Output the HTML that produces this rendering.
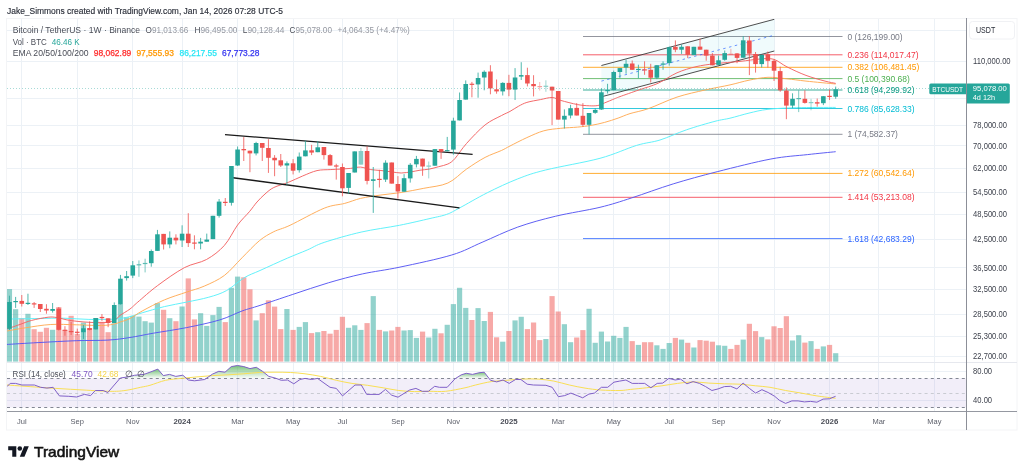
<!DOCTYPE html><html><head><meta charset="utf-8"><style>html,body{margin:0;padding:0;background:#fff;width:1024px;height:473px;overflow:hidden}svg{display:block;will-change:transform}text{font-family:"Liberation Sans",sans-serif}</style></head><body>
<svg width="1024" height="473" viewBox="0 0 1024 473">
<rect width="1024" height="473" fill="#fff"/>
<rect x="6.5" y="18.5" width="1010.5" height="411.5" fill="none" stroke="#f3f4f6" stroke-width="1"/>
<defs><clipPath id="cm"><rect x="7" y="19" width="959" height="343"/></clipPath><clipPath id="cr"><rect x="7" y="362" width="959" height="49"/></clipPath><linearGradient id="gg" x1="0" y1="0" x2="0" y2="1"><stop offset="0" stop-color="#4caf50" stop-opacity="0.75"/><stop offset="1" stop-color="#4caf50" stop-opacity="0.02"/></linearGradient></defs>
<line x1="21.5" y1="19" x2="21.5" y2="411" stroke="#ecf1f6" stroke-width="1"/>
<line x1="77.5" y1="19" x2="77.5" y2="411" stroke="#ecf1f6" stroke-width="1"/>
<line x1="132.5" y1="19" x2="132.5" y2="411" stroke="#ecf1f6" stroke-width="1"/>
<line x1="182.5" y1="19" x2="182.5" y2="411" stroke="#ecf1f6" stroke-width="1"/>
<line x1="237.5" y1="19" x2="237.5" y2="411" stroke="#ecf1f6" stroke-width="1"/>
<line x1="293.5" y1="19" x2="293.5" y2="411" stroke="#ecf1f6" stroke-width="1"/>
<line x1="342.5" y1="19" x2="342.5" y2="411" stroke="#ecf1f6" stroke-width="1"/>
<line x1="397.5" y1="19" x2="397.5" y2="411" stroke="#ecf1f6" stroke-width="1"/>
<line x1="453.5" y1="19" x2="453.5" y2="411" stroke="#ecf1f6" stroke-width="1"/>
<line x1="508.5" y1="19" x2="508.5" y2="411" stroke="#ecf1f6" stroke-width="1"/>
<line x1="558.5" y1="19" x2="558.5" y2="411" stroke="#ecf1f6" stroke-width="1"/>
<line x1="613.5" y1="19" x2="613.5" y2="411" stroke="#ecf1f6" stroke-width="1"/>
<line x1="669.5" y1="19" x2="669.5" y2="411" stroke="#ecf1f6" stroke-width="1"/>
<line x1="718.5" y1="19" x2="718.5" y2="411" stroke="#ecf1f6" stroke-width="1"/>
<line x1="774.5" y1="19" x2="774.5" y2="411" stroke="#ecf1f6" stroke-width="1"/>
<line x1="829.5" y1="19" x2="829.5" y2="411" stroke="#ecf1f6" stroke-width="1"/>
<line x1="878.5" y1="19" x2="878.5" y2="411" stroke="#ecf1f6" stroke-width="1"/>
<line x1="934.5" y1="19" x2="934.5" y2="411" stroke="#ecf1f6" stroke-width="1"/>
<line x1="7" y1="30.5" x2="966" y2="30.5" stroke="#ecf1f6" stroke-width="1"/>
<line x1="7" y1="61.5" x2="966" y2="61.5" stroke="#ecf1f6" stroke-width="1"/>
<line x1="7" y1="98.5" x2="966" y2="98.5" stroke="#ecf1f6" stroke-width="1"/>
<line x1="7" y1="125.5" x2="966" y2="125.5" stroke="#ecf1f6" stroke-width="1"/>
<line x1="7" y1="145.5" x2="966" y2="145.5" stroke="#ecf1f6" stroke-width="1"/>
<line x1="7" y1="168.5" x2="966" y2="168.5" stroke="#ecf1f6" stroke-width="1"/>
<line x1="7" y1="192.5" x2="966" y2="192.5" stroke="#ecf1f6" stroke-width="1"/>
<line x1="7" y1="214.5" x2="966" y2="214.5" stroke="#ecf1f6" stroke-width="1"/>
<line x1="7" y1="239.5" x2="966" y2="239.5" stroke="#ecf1f6" stroke-width="1"/>
<line x1="7" y1="267.5" x2="966" y2="267.5" stroke="#ecf1f6" stroke-width="1"/>
<line x1="7" y1="289.5" x2="966" y2="289.5" stroke="#ecf1f6" stroke-width="1"/>
<line x1="7" y1="314.5" x2="966" y2="314.5" stroke="#ecf1f6" stroke-width="1"/>
<line x1="7" y1="336.5" x2="966" y2="336.5" stroke="#ecf1f6" stroke-width="1"/>
<line x1="7" y1="356.5" x2="966" y2="356.5" stroke="#ecf1f6" stroke-width="1"/>
<line x1="7" y1="371.5" x2="966" y2="371.5" stroke="#ecf1f6" stroke-width="1"/>
<line x1="7" y1="400.5" x2="966" y2="400.5" stroke="#ecf1f6" stroke-width="1"/>
<g clip-path="url(#cm)">
<rect x="6.85" y="289.1" width="5.2" height="72.5" fill="rgba(38,166,154,0.5)"/>
<rect x="13.02" y="309.2" width="5.2" height="52.4" fill="rgba(38,166,154,0.5)"/>
<rect x="19.18" y="318.2" width="5.2" height="43.4" fill="rgba(239,83,80,0.5)"/>
<rect x="25.35" y="313.8" width="5.2" height="47.8" fill="rgba(38,166,154,0.5)"/>
<rect x="31.52" y="329.2" width="5.2" height="32.4" fill="rgba(239,83,80,0.5)"/>
<rect x="37.68" y="331.8" width="5.2" height="29.8" fill="rgba(239,83,80,0.5)"/>
<rect x="43.85" y="327.8" width="5.2" height="33.8" fill="rgba(239,83,80,0.5)"/>
<rect x="50.01" y="329.8" width="5.2" height="31.8" fill="rgba(38,166,154,0.5)"/>
<rect x="56.18" y="307.1" width="5.2" height="54.5" fill="rgba(239,83,80,0.5)"/>
<rect x="62.35" y="330" width="5.2" height="31.6" fill="rgba(239,83,80,0.5)"/>
<rect x="68.51" y="315.8" width="5.2" height="45.8" fill="rgba(239,83,80,0.5)"/>
<rect x="74.68" y="333.9" width="5.2" height="27.7" fill="rgba(239,83,80,0.5)"/>
<rect x="80.84" y="322.6" width="5.2" height="39" fill="rgba(38,166,154,0.5)"/>
<rect x="87.01" y="328.2" width="5.2" height="33.4" fill="rgba(239,83,80,0.5)"/>
<rect x="93.18" y="318" width="5.2" height="43.6" fill="rgba(38,166,154,0.5)"/>
<rect x="99.34" y="321.8" width="5.2" height="39.8" fill="rgba(239,83,80,0.5)"/>
<rect x="105.51" y="332.2" width="5.2" height="29.4" fill="rgba(239,83,80,0.5)"/>
<rect x="111.67" y="323.2" width="5.2" height="38.4" fill="rgba(38,166,154,0.5)"/>
<rect x="117.84" y="304.5" width="5.2" height="57.1" fill="rgba(38,166,154,0.5)"/>
<rect x="124.01" y="317.2" width="5.2" height="44.4" fill="rgba(38,166,154,0.5)"/>
<rect x="130.17" y="315.8" width="5.2" height="45.8" fill="rgba(38,166,154,0.5)"/>
<rect x="136.34" y="316.6" width="5.2" height="45" fill="rgba(38,166,154,0.5)"/>
<rect x="142.5" y="321.2" width="5.2" height="40.4" fill="rgba(38,166,154,0.5)"/>
<rect x="148.67" y="322.6" width="5.2" height="39" fill="rgba(38,166,154,0.5)"/>
<rect x="154.84" y="303.1" width="5.2" height="58.5" fill="rgba(38,166,154,0.5)"/>
<rect x="161" y="309.8" width="5.2" height="51.8" fill="rgba(239,83,80,0.5)"/>
<rect x="167.17" y="318.2" width="5.2" height="43.4" fill="rgba(38,166,154,0.5)"/>
<rect x="173.33" y="321.2" width="5.2" height="40.4" fill="rgba(239,83,80,0.5)"/>
<rect x="179.5" y="306.5" width="5.2" height="55.1" fill="rgba(38,166,154,0.5)"/>
<rect x="185.67" y="278.4" width="5.2" height="83.2" fill="rgba(239,83,80,0.5)"/>
<rect x="191.83" y="319.4" width="5.2" height="42.2" fill="rgba(239,83,80,0.5)"/>
<rect x="198" y="313.2" width="5.2" height="48.4" fill="rgba(38,166,154,0.5)"/>
<rect x="204.16" y="325.9" width="5.2" height="35.7" fill="rgba(38,166,154,0.5)"/>
<rect x="210.33" y="315.1" width="5.2" height="46.5" fill="rgba(38,166,154,0.5)"/>
<rect x="216.5" y="306.9" width="5.2" height="54.7" fill="rgba(38,166,154,0.5)"/>
<rect x="222.66" y="322.1" width="5.2" height="39.5" fill="rgba(239,83,80,0.5)"/>
<rect x="228.83" y="287.8" width="5.2" height="73.8" fill="rgba(38,166,154,0.5)"/>
<rect x="234.99" y="276.6" width="5.2" height="85" fill="rgba(38,166,154,0.5)"/>
<rect x="241.16" y="277.3" width="5.2" height="84.3" fill="rgba(239,83,80,0.5)"/>
<rect x="247.33" y="289.3" width="5.2" height="72.3" fill="rgba(239,83,80,0.5)"/>
<rect x="253.49" y="320.4" width="5.2" height="41.2" fill="rgba(38,166,154,0.5)"/>
<rect x="259.66" y="313.2" width="5.2" height="48.4" fill="rgba(239,83,80,0.5)"/>
<rect x="265.82" y="300.3" width="5.2" height="61.3" fill="rgba(239,83,80,0.5)"/>
<rect x="271.99" y="306.6" width="5.2" height="55" fill="rgba(239,83,80,0.5)"/>
<rect x="278.16" y="329.1" width="5.2" height="32.5" fill="rgba(239,83,80,0.5)"/>
<rect x="284.32" y="309" width="5.2" height="52.6" fill="rgba(38,166,154,0.5)"/>
<rect x="290.49" y="329.9" width="5.2" height="31.7" fill="rgba(239,83,80,0.5)"/>
<rect x="296.65" y="326.9" width="5.2" height="34.7" fill="rgba(38,166,154,0.5)"/>
<rect x="302.82" y="322.1" width="5.2" height="39.5" fill="rgba(38,166,154,0.5)"/>
<rect x="308.99" y="333.1" width="5.2" height="28.5" fill="rgba(239,83,80,0.5)"/>
<rect x="315.15" y="332.2" width="5.2" height="29.4" fill="rgba(38,166,154,0.5)"/>
<rect x="321.32" y="331" width="5.2" height="30.6" fill="rgba(239,83,80,0.5)"/>
<rect x="327.48" y="333.7" width="5.2" height="27.9" fill="rgba(239,83,80,0.5)"/>
<rect x="333.65" y="329.9" width="5.2" height="31.7" fill="rgba(239,83,80,0.5)"/>
<rect x="339.82" y="316.8" width="5.2" height="44.8" fill="rgba(239,83,80,0.5)"/>
<rect x="345.98" y="327.8" width="5.2" height="33.8" fill="rgba(38,166,154,0.5)"/>
<rect x="352.15" y="325.3" width="5.2" height="36.3" fill="rgba(38,166,154,0.5)"/>
<rect x="358.31" y="329.9" width="5.2" height="31.7" fill="rgba(38,166,154,0.5)"/>
<rect x="364.48" y="323.1" width="5.2" height="38.5" fill="rgba(239,83,80,0.5)"/>
<rect x="370.65" y="296.1" width="5.2" height="65.5" fill="rgba(38,166,154,0.5)"/>
<rect x="376.81" y="329.9" width="5.2" height="31.7" fill="rgba(239,83,80,0.5)"/>
<rect x="382.98" y="331.4" width="5.2" height="30.2" fill="rgba(38,166,154,0.5)"/>
<rect x="389.14" y="330.5" width="5.2" height="31.1" fill="rgba(239,83,80,0.5)"/>
<rect x="395.31" y="326.9" width="5.2" height="34.7" fill="rgba(239,83,80,0.5)"/>
<rect x="401.48" y="330.5" width="5.2" height="31.1" fill="rgba(38,166,154,0.5)"/>
<rect x="407.64" y="330.1" width="5.2" height="31.5" fill="rgba(38,166,154,0.5)"/>
<rect x="413.81" y="337.9" width="5.2" height="23.7" fill="rgba(38,166,154,0.5)"/>
<rect x="419.97" y="331.6" width="5.2" height="30" fill="rgba(239,83,80,0.5)"/>
<rect x="426.14" y="337.5" width="5.2" height="24.1" fill="rgba(38,166,154,0.5)"/>
<rect x="432.31" y="328.8" width="5.2" height="32.8" fill="rgba(38,166,154,0.5)"/>
<rect x="438.47" y="333.3" width="5.2" height="28.3" fill="rgba(239,83,80,0.5)"/>
<rect x="444.64" y="324.8" width="5.2" height="36.8" fill="rgba(38,166,154,0.5)"/>
<rect x="450.8" y="304.1" width="5.2" height="57.5" fill="rgba(38,166,154,0.5)"/>
<rect x="456.97" y="287.8" width="5.2" height="73.8" fill="rgba(38,166,154,0.5)"/>
<rect x="463.14" y="307.9" width="5.2" height="53.7" fill="rgba(38,166,154,0.5)"/>
<rect x="469.3" y="320" width="5.2" height="41.6" fill="rgba(239,83,80,0.5)"/>
<rect x="475.47" y="308.1" width="5.2" height="53.5" fill="rgba(38,166,154,0.5)"/>
<rect x="481.63" y="321" width="5.2" height="40.6" fill="rgba(38,166,154,0.5)"/>
<rect x="487.8" y="311.9" width="5.2" height="49.7" fill="rgba(239,83,80,0.5)"/>
<rect x="493.97" y="337.3" width="5.2" height="24.3" fill="rgba(239,83,80,0.5)"/>
<rect x="500.13" y="341.7" width="5.2" height="19.9" fill="rgba(38,166,154,0.5)"/>
<rect x="506.3" y="331" width="5.2" height="30.6" fill="rgba(239,83,80,0.5)"/>
<rect x="512.46" y="320.4" width="5.2" height="41.2" fill="rgba(38,166,154,0.5)"/>
<rect x="518.63" y="316.8" width="5.2" height="44.8" fill="rgba(38,166,154,0.5)"/>
<rect x="524.8" y="329.1" width="5.2" height="32.5" fill="rgba(239,83,80,0.5)"/>
<rect x="530.96" y="322.5" width="5.2" height="39.1" fill="rgba(239,83,80,0.5)"/>
<rect x="537.13" y="340.1" width="5.2" height="21.5" fill="rgba(239,83,80,0.5)"/>
<rect x="543.29" y="339" width="5.2" height="22.6" fill="rgba(38,166,154,0.5)"/>
<rect x="549.46" y="296.1" width="5.2" height="65.5" fill="rgba(239,83,80,0.5)"/>
<rect x="555.63" y="311.5" width="5.2" height="50.1" fill="rgba(239,83,80,0.5)"/>
<rect x="561.79" y="324.2" width="5.2" height="37.4" fill="rgba(38,166,154,0.5)"/>
<rect x="567.96" y="342.2" width="5.2" height="19.4" fill="rgba(38,166,154,0.5)"/>
<rect x="574.12" y="337.5" width="5.2" height="24.1" fill="rgba(239,83,80,0.5)"/>
<rect x="580.29" y="330.1" width="5.2" height="31.5" fill="rgba(239,83,80,0.5)"/>
<rect x="586.46" y="308.8" width="5.2" height="52.8" fill="rgba(38,166,154,0.5)"/>
<rect x="592.62" y="342.8" width="5.2" height="18.8" fill="rgba(38,166,154,0.5)"/>
<rect x="598.79" y="331.6" width="5.2" height="30" fill="rgba(38,166,154,0.5)"/>
<rect x="604.95" y="341.5" width="5.2" height="20.1" fill="rgba(38,166,154,0.5)"/>
<rect x="611.12" y="335.8" width="5.2" height="25.8" fill="rgba(38,166,154,0.5)"/>
<rect x="617.29" y="337.9" width="5.2" height="23.7" fill="rgba(38,166,154,0.5)"/>
<rect x="623.45" y="326.9" width="5.2" height="34.7" fill="rgba(38,166,154,0.5)"/>
<rect x="629.62" y="341.1" width="5.2" height="20.5" fill="rgba(239,83,80,0.5)"/>
<rect x="635.78" y="344.9" width="5.2" height="16.7" fill="rgba(38,166,154,0.5)"/>
<rect x="641.95" y="342.2" width="5.2" height="19.4" fill="rgba(239,83,80,0.5)"/>
<rect x="648.12" y="342.2" width="5.2" height="19.4" fill="rgba(239,83,80,0.5)"/>
<rect x="654.28" y="345.3" width="5.2" height="16.3" fill="rgba(38,166,154,0.5)"/>
<rect x="660.45" y="348.9" width="5.2" height="12.7" fill="rgba(38,166,154,0.5)"/>
<rect x="666.61" y="343" width="5.2" height="18.6" fill="rgba(38,166,154,0.5)"/>
<rect x="672.78" y="337.9" width="5.2" height="23.7" fill="rgba(239,83,80,0.5)"/>
<rect x="678.95" y="339.6" width="5.2" height="22" fill="rgba(38,166,154,0.5)"/>
<rect x="685.11" y="342.8" width="5.2" height="18.8" fill="rgba(239,83,80,0.5)"/>
<rect x="691.28" y="347.5" width="5.2" height="14.1" fill="rgba(38,166,154,0.5)"/>
<rect x="697.44" y="340.1" width="5.2" height="21.5" fill="rgba(239,83,80,0.5)"/>
<rect x="703.61" y="340.7" width="5.2" height="20.9" fill="rgba(239,83,80,0.5)"/>
<rect x="709.78" y="341.7" width="5.2" height="19.9" fill="rgba(239,83,80,0.5)"/>
<rect x="715.94" y="345.3" width="5.2" height="16.3" fill="rgba(38,166,154,0.5)"/>
<rect x="722.11" y="345.8" width="5.2" height="15.8" fill="rgba(38,166,154,0.5)"/>
<rect x="728.27" y="348.9" width="5.2" height="12.7" fill="rgba(239,83,80,0.5)"/>
<rect x="734.44" y="344.9" width="5.2" height="16.7" fill="rgba(239,83,80,0.5)"/>
<rect x="740.61" y="339.6" width="5.2" height="22" fill="rgba(38,166,154,0.5)"/>
<rect x="746.77" y="323.8" width="5.2" height="37.8" fill="rgba(239,83,80,0.5)"/>
<rect x="752.94" y="331.1" width="5.2" height="30.5" fill="rgba(239,83,80,0.5)"/>
<rect x="759.1" y="337.1" width="5.2" height="24.5" fill="rgba(38,166,154,0.5)"/>
<rect x="765.27" y="339.4" width="5.2" height="22.2" fill="rgba(239,83,80,0.5)"/>
<rect x="771.44" y="326.3" width="5.2" height="35.3" fill="rgba(239,83,80,0.5)"/>
<rect x="777.6" y="328" width="5.2" height="33.6" fill="rgba(239,83,80,0.5)"/>
<rect x="783.77" y="316.2" width="5.2" height="45.4" fill="rgba(239,83,80,0.5)"/>
<rect x="789.93" y="340.5" width="5.2" height="21.1" fill="rgba(38,166,154,0.5)"/>
<rect x="796.1" y="335.2" width="5.2" height="26.4" fill="rgba(38,166,154,0.5)"/>
<rect x="802.27" y="342.6" width="5.2" height="19" fill="rgba(239,83,80,0.5)"/>
<rect x="808.43" y="341.1" width="5.2" height="20.5" fill="rgba(38,166,154,0.5)"/>
<rect x="814.6" y="348.9" width="5.2" height="12.7" fill="rgba(239,83,80,0.5)"/>
<rect x="820.76" y="346.4" width="5.2" height="15.2" fill="rgba(38,166,154,0.5)"/>
<rect x="826.93" y="344.9" width="5.2" height="16.7" fill="rgba(239,83,80,0.5)"/>
<rect x="833.1" y="353.2" width="5.2" height="8.4" fill="rgba(38,166,154,0.5)"/>
<line x1="583" y1="36.5" x2="842.5" y2="36.5" stroke="#787b86" stroke-width="1" stroke-opacity="0.8"/>
<text x="847.4" y="39.5" font-size="8.5" fill="#787b86">0 (126,199.00)</text>
<line x1="583" y1="54.8" x2="842.5" y2="54.8" stroke="#f23645" stroke-width="1" stroke-opacity="0.8"/>
<text x="847.4" y="57.8" font-size="8.5" fill="#f23645">0.236 (114,017.47)</text>
<line x1="583" y1="67.3" x2="842.5" y2="67.3" stroke="#ff9800" stroke-width="1" stroke-opacity="0.8"/>
<text x="847.4" y="70.3" font-size="8.5" fill="#ff9800">0.382 (106,481.45)</text>
<line x1="583" y1="78.6" x2="842.5" y2="78.6" stroke="#4caf50" stroke-width="1" stroke-opacity="0.8"/>
<text x="847.4" y="81.6" font-size="8.5" fill="#4caf50">0.5 (100,390.68)</text>
<line x1="583" y1="90.0" x2="842.5" y2="90.0" stroke="#089981" stroke-width="1" stroke-opacity="0.8"/>
<text x="847.4" y="93" font-size="8.5" fill="#089981">0.618 (94,299.92)</text>
<line x1="583" y1="108.5" x2="842.5" y2="108.5" stroke="#00bcd4" stroke-width="1" stroke-opacity="0.8"/>
<text x="847.4" y="111.5" font-size="8.5" fill="#00bcd4">0.786 (85,628.33)</text>
<line x1="583" y1="134.3" x2="842.5" y2="134.3" stroke="#787b86" stroke-width="1" stroke-opacity="0.8"/>
<text x="847.4" y="137.3" font-size="8.5" fill="#787b86">1 (74,582.37)</text>
<line x1="583" y1="173.4" x2="842.5" y2="173.4" stroke="#ff9800" stroke-width="1" stroke-opacity="0.8"/>
<text x="847.4" y="176.4" font-size="8.5" fill="#ff9800">1.272 (60,542.64)</text>
<line x1="583" y1="197.3" x2="842.5" y2="197.3" stroke="#f23645" stroke-width="1" stroke-opacity="0.8"/>
<text x="847.4" y="200.3" font-size="8.5" fill="#f23645">1.414 (53,213.08)</text>
<line x1="583" y1="238.6" x2="842.5" y2="238.6" stroke="#2962ff" stroke-width="1" stroke-opacity="0.8"/>
<text x="847.4" y="241.6" font-size="8.5" fill="#2962ff">1.618 (42,683.29)</text>
<polygon points="601.4,65.5 774.3,19.3 774.3,51 601.4,96.8" fill="#00bcd4" fill-opacity="0.06"/>
<line x1="601.4" y1="65.5" x2="774.3" y2="19.3" stroke="#3a3a3a" stroke-width="0.9"/>
<line x1="601.4" y1="96.8" x2="774.3" y2="51" stroke="#3a3a3a" stroke-width="0.9"/>
<line x1="601.4" y1="81.1" x2="774.3" y2="35.2" stroke="#2962ff" stroke-opacity="0.75" stroke-width="0.9" stroke-dasharray="2.5,3.5"/>
<path fill="none" stroke="#5656f2" stroke-width="0.95" d="M6,344.5 C11.35,344.18 26.4,343.23 38.1,342.6 C49.8,341.97 64.57,341.12 76.2,340.7 C87.83,340.28 98.93,340.63 107.9,340.1 C116.87,339.57 122.43,338.65 130,337.5 C137.57,336.35 143.87,334.85 153.3,333.2 C162.73,331.55 175.52,329.82 186.6,327.6 C197.68,325.38 210.57,322.67 219.8,319.9 C229.03,317.13 235.3,313.42 242,311 C248.7,308.58 251.53,308.17 260,305.4 C268.47,302.63 281.4,298.17 292.8,294.4 C304.2,290.63 316.78,286.22 328.4,282.8 C340.02,279.38 350.57,276.52 362.5,273.9 C374.43,271.28 385.13,270.25 400,267.1 C414.87,263.95 438.02,259.13 451.7,255 C465.38,250.87 471.1,246.95 482.1,242.3 C493.1,237.65 505.43,231.45 517.7,227.1 C529.97,222.75 541.98,219.5 555.7,216.2 C569.42,212.9 587.33,210.35 600,207.3 C612.67,204.25 619.5,201.8 631.7,197.9 C643.9,194 658.95,188.27 673.2,183.9 C687.45,179.53 700.92,175.85 717.2,171.7 C733.48,167.55 755.85,161.85 770.9,159 C785.95,156.15 796.7,155.82 807.5,154.6 C818.3,153.38 831,152.18 835.7,151.7"/>
<path fill="none" stroke="#5af0fa" stroke-width="0.95" d="M6,319.1 C11.35,319 28.52,318.65 38.1,318.5 C47.68,318.35 55.03,318.05 63.5,318.2 C71.97,318.35 80.43,319.25 88.9,319.4 C97.37,319.55 107.45,319.57 114.3,319.1 C121.15,318.63 125.35,317.65 130,316.6 C134.65,315.55 136.47,314.47 142.2,312.8 C147.93,311.13 157,308.38 164.4,306.6 C171.8,304.82 179.2,303.67 186.6,302.1 C194,300.53 202.15,299.12 208.8,297.2 C215.45,295.28 220.58,293.85 226.5,290.6 C232.42,287.35 238.72,281.05 244.3,277.7 C249.88,274.35 252.83,273.75 260,270.5 C267.17,267.25 279.43,261.62 287.3,258.2 C295.17,254.78 301.05,252.63 307.2,250 C313.35,247.37 315.22,245.38 324.2,242.4 C333.18,239.42 348.57,234.95 361.1,232.1 C373.63,229.25 387.92,227.57 399.4,225.3 C410.88,223.03 422.13,220.32 430,218.5 C437.87,216.68 441.72,216.13 446.6,214.4 C451.48,212.67 452.53,211.7 459.3,208.1 C466.07,204.5 477.47,197.67 487.2,192.8 C496.93,187.93 507.97,182.7 517.7,178.9 C527.43,175.1 531.88,173.43 545.6,170 C559.32,166.57 584.83,162.4 600,158.3 C615.17,154.2 626.6,148.45 636.6,145.4 C646.6,142.35 651.68,142.6 660,140 C668.32,137.4 677.33,132.92 686.5,129.8 C695.67,126.68 707.75,123.23 715,121.3 C722.25,119.37 724.33,119.57 730,118.2 C735.67,116.83 742.67,114.58 749,113.1 C755.33,111.62 760.08,110.2 768,109.3 C775.92,108.4 785.22,108.02 796.5,107.7 C807.78,107.38 829.17,107.45 835.7,107.4"/>
<path fill="none" stroke="#ffab55" stroke-width="0.95" d="M6,331.2 C9.23,330.63 17.93,328.92 25.4,327.8 C32.87,326.68 42.33,325 50.8,324.5 C59.27,324 67.73,324.63 76.2,324.8 C84.67,324.97 95.25,325.63 101.6,325.5 C107.95,325.37 111.23,324.57 114.3,324 C117.37,323.43 117.38,323.02 120,322.1 C122.62,321.18 126.3,320.35 130,318.5 C133.7,316.65 136.47,314.1 142.2,311 C147.93,307.9 157,303.05 164.4,299.9 C171.8,296.75 179.95,294.4 186.6,292.1 C193.25,289.8 198.02,288.87 204.3,286.1 C210.58,283.33 218.02,280.22 224.3,275.5 C230.58,270.78 236.15,263.6 242,257.8 C247.85,252 254.1,245.05 259.4,240.7 C264.7,236.35 268.7,234.27 273.8,231.7 C278.9,229.13 281.6,229.22 290,225.3 C298.4,221.38 315.08,211.85 324.2,208.2 C333.32,204.55 338.63,205.03 344.7,203.4 C350.77,201.77 354.57,199.8 360.6,198.4 C366.63,197 374.13,195.98 380.9,195 C387.67,194.02 394.05,193.62 401.2,192.5 C408.35,191.38 416.02,189.88 423.8,188.3 C431.58,186.72 440.78,186.2 447.9,183 C455.02,179.8 460.3,173.37 466.5,169.1 C472.7,164.83 479.28,160.5 485.1,157.4 C490.92,154.3 497.25,152.4 501.4,150.5 C505.55,148.6 505.75,148.15 510,146 C514.25,143.85 521.27,140.13 526.9,137.6 C532.53,135.07 538.17,132.35 543.8,130.8 C549.43,129.25 555.07,128.92 560.7,128.3 C566.33,127.68 572.53,127.58 577.6,127.1 C582.67,126.62 586.6,126.18 591.1,125.4 C595.6,124.62 600.1,123.62 604.6,122.4 C609.1,121.18 613.87,119.57 618.1,118.1 C622.33,116.63 624.93,115.18 630,113.6 C635.07,112.02 640.67,111.35 648.5,108.6 C656.33,105.85 667.5,100.22 677,97.1 C686.5,93.98 696.67,91.93 705.5,89.9 C714.33,87.87 722.75,86.52 730,84.9 C737.25,83.28 742.67,81.47 749,80.2 C755.33,78.93 761.67,77.53 768,77.3 C774.33,77.07 780.67,78.17 787,78.8 C793.33,79.43 797.88,80.23 806,81.1 C814.12,81.97 830.75,83.52 835.7,84"/>
<path fill="none" stroke="#f26363" stroke-width="0.95" d="M6,329.3 C8.17,328.55 14.72,326.28 19,324.8 C23.28,323.32 26.83,321.67 31.7,320.4 C36.57,319.13 43.97,317.67 48.2,317.2 C52.43,316.73 53.5,317.07 57.1,317.6 C60.7,318.13 64.5,319.62 69.8,320.4 C75.1,321.18 82.55,321.98 88.9,322.3 C95.25,322.62 103.25,322.93 107.9,322.3 C112.55,321.67 114.78,319.65 116.8,318.5 C118.82,317.35 117.8,316.98 120,315.4 C122.2,313.82 127.03,311.22 130,309 C132.97,306.78 133.18,306.02 137.8,302.1 C142.42,298.18 149.95,291.23 157.7,285.5 C165.45,279.77 176.17,272.03 184.3,267.7 C192.43,263.37 199.83,263.2 206.5,259.5 C213.17,255.8 219.12,251.25 224.3,245.5 C229.48,239.75 233.42,230.63 237.6,225 C241.78,219.37 246.17,215.53 249.4,211.7 C252.63,207.87 254.4,204.95 257,202 C259.6,199.05 262.2,196.42 265,194 C267.8,191.58 269.93,189.43 273.8,187.5 C277.67,185.57 283.4,184.32 288.2,182.4 C293,180.48 297.8,177.97 302.6,176 C307.4,174.03 312.4,171.67 317,170.6 C321.6,169.53 326.32,169.85 330.2,169.6 C334.08,169.35 336.92,169.3 340.3,169.1 C343.68,168.9 347.12,168.73 350.5,168.4 C353.88,168.07 357.22,166.9 360.6,167.1 C363.98,167.3 367.42,169.03 370.8,169.6 C374.18,170.17 377.52,170.13 380.9,170.5 C384.28,170.87 387.72,171.38 391.1,171.8 C394.48,172.22 397.82,173 401.2,173 C404.58,173 408.27,172.27 411.4,171.8 C414.53,171.33 417.02,170.65 420,170.2 C422.98,169.75 426.2,169.68 429.3,169.1 C432.4,168.52 435.5,167.55 438.6,166.7 C441.7,165.85 445.18,165.35 447.9,164 C450.62,162.65 451.8,162.02 454.9,158.6 C458,155.18 461.47,149.12 466.5,143.5 C471.53,137.88 479.28,129.55 485.1,124.9 C490.92,120.25 497.25,117.85 501.4,115.6 C505.55,113.35 507.17,112.95 510,111.4 C512.83,109.85 515.58,107.8 518.4,106.3 C521.22,104.8 523.23,103.52 526.9,102.4 C530.57,101.28 536.18,100.42 540.4,99.6 C544.62,98.78 548.82,97.37 552.2,97.5 C555.58,97.63 556.47,99.22 560.7,100.4 C564.93,101.58 572.82,103.7 577.6,104.6 C582.38,105.5 586.03,105.65 589.4,105.8 C592.77,105.95 595.27,105.98 597.8,105.5 C600.33,105.02 601.78,104.03 604.6,102.9 C607.42,101.77 612.13,99.75 614.7,98.7 C617.27,97.65 615.95,98.07 620,96.6 C624.05,95.13 632.67,92.12 639,89.9 C645.33,87.68 651.67,86.15 658,83.3 C664.33,80.45 670.67,75.57 677,72.8 C683.33,70.03 689.67,68.22 696,66.7 C702.33,65.18 707.67,64.58 715,63.7 C722.33,62.82 732.5,62.18 740,61.4 C747.5,60.62 754.38,59.35 760,59 C765.62,58.65 769.2,57.98 773.7,59.3 C778.2,60.62 781.62,64.22 787,66.9 C792.38,69.58 799.67,73.03 806,75.4 C812.33,77.77 820.05,79.77 825,81.1 C829.95,82.43 833.92,83.02 835.7,83.4"/>
<line x1="225" y1="134.6" x2="472.6" y2="154.4" stroke="#1a1a1a" stroke-width="1.4"/>
<line x1="233" y1="177.7" x2="459.5" y2="207.9" stroke="#1a1a1a" stroke-width="1.4"/>
<g><rect x="8.95" y="295.7" width="1" height="34.3" fill="#26a69a" fill-opacity="0.8"/><rect x="7.15" y="302" width="4.6" height="26.8" fill="#26a69a"/></g>
<g><rect x="15.12" y="296.9" width="1" height="11" fill="#26a69a" fill-opacity="0.8"/><rect x="13.32" y="301" width="4.6" height="1.2" fill="#26a69a"/></g>
<g><rect x="21.28" y="295" width="1" height="11.5" fill="#ef5350" fill-opacity="0.8"/><rect x="19.48" y="300.9" width="4.6" height="2.9" fill="#ef5350"/></g>
<g><rect x="27.45" y="293.7" width="1" height="11.3" fill="#26a69a" fill-opacity="0.8"/><rect x="25.65" y="302.8" width="4.6" height="1.2" fill="#26a69a"/></g>
<g><rect x="33.62" y="302" width="1" height="5.9" fill="#ef5350" fill-opacity="0.8"/><rect x="31.82" y="303.3" width="4.6" height="1.2" fill="#ef5350"/></g>
<g><rect x="39.78" y="304" width="1" height="8" fill="#ef5350" fill-opacity="0.8"/><rect x="37.98" y="304" width="4.6" height="5" fill="#ef5350"/></g>
<g><rect x="45.95" y="304.2" width="1" height="9.5" fill="#ef5350" fill-opacity="0.8"/><rect x="44.15" y="308.8" width="4.6" height="1.7" fill="#ef5350"/></g>
<g><rect x="52.11" y="303" width="1" height="9.6" fill="#26a69a" fill-opacity="0.8"/><rect x="50.31" y="309" width="4.6" height="1.8" fill="#26a69a"/></g>
<g><rect x="58.28" y="307" width="1" height="23.5" fill="#ef5350" fill-opacity="0.8"/><rect x="56.48" y="308.6" width="4.6" height="21.2" fill="#ef5350"/></g>
<g><rect x="64.45" y="326.2" width="1" height="9.5" fill="#ef5350" fill-opacity="0.8"/><rect x="62.65" y="329.7" width="4.6" height="1.2" fill="#ef5350"/></g>
<g><rect x="70.61" y="322" width="1" height="13" fill="#ef5350" fill-opacity="0.8"/><rect x="68.81" y="331" width="4.6" height="1.2" fill="#ef5350"/></g>
<g><rect x="76.78" y="328.6" width="1" height="6.6" fill="#ef5350" fill-opacity="0.8"/><rect x="74.98" y="331.7" width="4.6" height="1.2" fill="#ef5350"/></g>
<g><rect x="82.94" y="325.1" width="1" height="13.8" fill="#26a69a" fill-opacity="0.8"/><rect x="81.14" y="328.3" width="4.6" height="3.9" fill="#26a69a"/></g>
<g><rect x="89.11" y="321.4" width="1" height="9" fill="#ef5350" fill-opacity="0.8"/><rect x="87.31" y="328.1" width="4.6" height="1.8" fill="#ef5350"/></g>
<g><rect x="95.28" y="318" width="1" height="11.4" fill="#26a69a" fill-opacity="0.8"/><rect x="93.48" y="318" width="4.6" height="11.4" fill="#26a69a"/></g>
<g><rect x="101.44" y="314" width="1" height="6.9" fill="#ef5350" fill-opacity="0.8"/><rect x="99.64" y="316.9" width="4.6" height="1.3" fill="#ef5350"/></g>
<g><rect x="107.61" y="318.3" width="1" height="8.9" fill="#ef5350" fill-opacity="0.8"/><rect x="105.81" y="318.3" width="4.6" height="4.7" fill="#ef5350"/></g>
<g><rect x="113.77" y="302.4" width="1" height="20.6" fill="#26a69a" fill-opacity="0.8"/><rect x="111.97" y="305" width="4.6" height="18" fill="#26a69a"/></g>
<g><rect x="119.94" y="274.9" width="1" height="29.6" fill="#26a69a" fill-opacity="0.8"/><rect x="118.14" y="278.7" width="4.6" height="25.8" fill="#26a69a"/></g>
<g><rect x="126.11" y="271" width="1" height="9.6" fill="#26a69a" fill-opacity="0.8"/><rect x="124.31" y="276.2" width="4.6" height="1.9" fill="#26a69a"/></g>
<g><rect x="132.27" y="261" width="1" height="17.1" fill="#26a69a" fill-opacity="0.8"/><rect x="130.47" y="265.3" width="4.6" height="10.3" fill="#26a69a"/></g>
<g opacity="0.75"><rect x="138.44" y="260.4" width="1" height="16.4" fill="#26a69a" fill-opacity="0.8"/><rect x="136.64" y="264.2" width="4.6" height="1.2" fill="#26a69a"/></g>
<g opacity="0.75"><rect x="144.6" y="258.7" width="1" height="13.7" fill="#26a69a" fill-opacity="0.8"/><rect x="142.8" y="262.9" width="4.6" height="1.2" fill="#26a69a"/></g>
<g><rect x="150.77" y="249.5" width="1" height="17.2" fill="#26a69a" fill-opacity="0.8"/><rect x="148.97" y="251" width="4.6" height="12.2" fill="#26a69a"/></g>
<g><rect x="156.94" y="229.9" width="1" height="21" fill="#26a69a" fill-opacity="0.8"/><rect x="155.14" y="234.3" width="4.6" height="16.6" fill="#26a69a"/></g>
<g><rect x="163.1" y="233.9" width="1" height="15.6" fill="#ef5350" fill-opacity="0.8"/><rect x="161.3" y="233.9" width="4.6" height="10.5" fill="#ef5350"/></g>
<g><rect x="169.27" y="231.4" width="1" height="16.8" fill="#26a69a" fill-opacity="0.8"/><rect x="167.47" y="237.7" width="4.6" height="6.7" fill="#26a69a"/></g>
<g><rect x="175.43" y="234.3" width="1" height="10.1" fill="#ef5350" fill-opacity="0.8"/><rect x="173.63" y="237.7" width="4.6" height="2.7" fill="#ef5350"/></g>
<g><rect x="181.6" y="225.3" width="1" height="21.7" fill="#26a69a" fill-opacity="0.8"/><rect x="179.8" y="233.7" width="4.6" height="6.8" fill="#26a69a"/></g>
<g><rect x="187.77" y="213.2" width="1" height="33.8" fill="#ef5350" fill-opacity="0.8"/><rect x="185.97" y="233.7" width="4.6" height="9.4" fill="#ef5350"/></g>
<g><rect x="193.93" y="235.3" width="1" height="14" fill="#ef5350" fill-opacity="0.8"/><rect x="192.13" y="242.5" width="4.6" height="1.2" fill="#ef5350"/></g>
<g><rect x="200.1" y="237.9" width="1" height="11.4" fill="#26a69a" fill-opacity="0.8"/><rect x="198.3" y="241.7" width="4.6" height="1.8" fill="#26a69a"/></g>
<g><rect x="206.26" y="233.6" width="1" height="8.1" fill="#26a69a" fill-opacity="0.8"/><rect x="204.46" y="239.6" width="4.6" height="2.1" fill="#26a69a"/></g>
<g><rect x="212.43" y="215.8" width="1" height="23.3" fill="#26a69a" fill-opacity="0.8"/><rect x="210.63" y="215.8" width="4.6" height="23.3" fill="#26a69a"/></g>
<g><rect x="218.6" y="199" width="1" height="18.6" fill="#26a69a" fill-opacity="0.8"/><rect x="216.8" y="201.6" width="4.6" height="14.2" fill="#26a69a"/></g>
<g><rect x="224.76" y="198" width="1" height="8" fill="#ef5350" fill-opacity="0.8"/><rect x="222.96" y="201.8" width="4.6" height="1.2" fill="#ef5350"/></g>
<g><rect x="230.93" y="166" width="1" height="39.6" fill="#26a69a" fill-opacity="0.8"/><rect x="229.13" y="166" width="4.6" height="36.8" fill="#26a69a"/></g>
<g><rect x="237.09" y="146.5" width="1" height="19.5" fill="#26a69a" fill-opacity="0.8"/><rect x="235.29" y="149.5" width="4.6" height="16" fill="#26a69a"/></g>
<g><rect x="243.26" y="137.1" width="1" height="23.9" fill="#ef5350" fill-opacity="0.8"/><rect x="241.46" y="149" width="4.6" height="1.3" fill="#ef5350"/></g>
<g><rect x="249.43" y="150.7" width="1" height="21.5" fill="#ef5350" fill-opacity="0.8"/><rect x="247.63" y="150.7" width="4.6" height="2.7" fill="#ef5350"/></g>
<g><rect x="255.59" y="141.8" width="1" height="13.6" fill="#26a69a" fill-opacity="0.8"/><rect x="253.79" y="143" width="4.6" height="10.4" fill="#26a69a"/></g>
<g><rect x="261.76" y="143" width="1" height="18" fill="#ef5350" fill-opacity="0.8"/><rect x="259.96" y="143" width="4.6" height="4.8" fill="#ef5350"/></g>
<g><rect x="267.92" y="139.2" width="1" height="33.7" fill="#ef5350" fill-opacity="0.8"/><rect x="266.12" y="148" width="4.6" height="9.8" fill="#ef5350"/></g>
<g><rect x="274.09" y="155.1" width="1" height="21.1" fill="#ef5350" fill-opacity="0.8"/><rect x="272.29" y="157.8" width="4.6" height="2.5" fill="#ef5350"/></g>
<g><rect x="280.26" y="154" width="1" height="13" fill="#ef5350" fill-opacity="0.8"/><rect x="278.46" y="160.3" width="4.6" height="5.2" fill="#ef5350"/></g>
<g><rect x="286.42" y="161.4" width="1" height="23.6" fill="#26a69a" fill-opacity="0.8"/><rect x="284.62" y="163.3" width="4.6" height="2.2" fill="#26a69a"/></g>
<g><rect x="292.59" y="159.1" width="1" height="15.3" fill="#ef5350" fill-opacity="0.8"/><rect x="290.79" y="163.3" width="4.6" height="7.4" fill="#ef5350"/></g>
<g><rect x="298.75" y="152.5" width="1" height="20.1" fill="#26a69a" fill-opacity="0.8"/><rect x="296.95" y="156.6" width="4.6" height="13.6" fill="#26a69a"/></g>
<g><rect x="304.92" y="140.7" width="1" height="15.6" fill="#26a69a" fill-opacity="0.8"/><rect x="303.12" y="150.4" width="4.6" height="5.9" fill="#26a69a"/></g>
<g><rect x="311.09" y="144.8" width="1" height="10.3" fill="#ef5350" fill-opacity="0.8"/><rect x="309.29" y="150.3" width="4.6" height="2.3" fill="#ef5350"/></g>
<g><rect x="317.25" y="141.1" width="1" height="11.1" fill="#26a69a" fill-opacity="0.8"/><rect x="315.45" y="147.3" width="4.6" height="4.9" fill="#26a69a"/></g>
<g><rect x="323.42" y="147" width="1" height="12.6" fill="#ef5350" fill-opacity="0.8"/><rect x="321.62" y="147" width="4.6" height="8.1" fill="#ef5350"/></g>
<g><rect x="329.58" y="154" width="1" height="11.5" fill="#ef5350" fill-opacity="0.8"/><rect x="327.78" y="155.1" width="4.6" height="10.4" fill="#ef5350"/></g>
<g><rect x="335.75" y="163.8" width="1" height="15.8" fill="#ef5350" fill-opacity="0.8"/><rect x="333.95" y="165.4" width="4.6" height="1.2" fill="#ef5350"/></g>
<g><rect x="341.92" y="163.5" width="1" height="32.8" fill="#ef5350" fill-opacity="0.8"/><rect x="340.12" y="167" width="4.6" height="21.3" fill="#ef5350"/></g>
<g><rect x="348.08" y="173" width="1" height="20.6" fill="#26a69a" fill-opacity="0.8"/><rect x="346.28" y="173" width="4.6" height="14.9" fill="#26a69a"/></g>
<g><rect x="354.25" y="151.4" width="1" height="21.1" fill="#26a69a" fill-opacity="0.8"/><rect x="352.45" y="151.4" width="4.6" height="21.1" fill="#26a69a"/></g>
<g opacity="0.55"><rect x="360.41" y="147.9" width="1" height="16.7" fill="#26a69a" fill-opacity="0.8"/><rect x="358.61" y="151" width="4.6" height="13.6" fill="#26a69a"/></g>
<g><rect x="366.58" y="146.3" width="1" height="38.1" fill="#ef5350" fill-opacity="0.8"/><rect x="364.78" y="151" width="4.6" height="29.9" fill="#ef5350"/></g>
<g><rect x="372.75" y="167" width="1" height="45.9" fill="#26a69a" fill-opacity="0.8"/><rect x="370.95" y="179.3" width="4.6" height="1.6" fill="#26a69a"/></g>
<g><rect x="378.91" y="169.8" width="1" height="17.7" fill="#ef5350" fill-opacity="0.8"/><rect x="377.11" y="178.8" width="4.6" height="1.2" fill="#ef5350"/></g>
<g><rect x="385.08" y="160.3" width="1" height="21.7" fill="#26a69a" fill-opacity="0.8"/><rect x="383.28" y="162.7" width="4.6" height="16.9" fill="#26a69a"/></g>
<g><rect x="391.24" y="162.5" width="1" height="21.1" fill="#ef5350" fill-opacity="0.8"/><rect x="389.44" y="162.5" width="4.6" height="21.1" fill="#ef5350"/></g>
<g><rect x="397.41" y="176.1" width="1" height="22.5" fill="#ef5350" fill-opacity="0.8"/><rect x="395.61" y="184" width="4.6" height="7.5" fill="#ef5350"/></g>
<g><rect x="403.58" y="174.1" width="1" height="17.6" fill="#26a69a" fill-opacity="0.8"/><rect x="401.78" y="178.2" width="4.6" height="13.5" fill="#26a69a"/></g>
<g><rect x="409.74" y="163.1" width="1" height="19.5" fill="#26a69a" fill-opacity="0.8"/><rect x="407.94" y="164.8" width="4.6" height="13.6" fill="#26a69a"/></g>
<g><rect x="415.91" y="155.9" width="1" height="11.5" fill="#26a69a" fill-opacity="0.8"/><rect x="414.11" y="158.9" width="4.6" height="5.4" fill="#26a69a"/></g>
<g><rect x="422.07" y="158.6" width="1" height="17.2" fill="#ef5350" fill-opacity="0.8"/><rect x="420.27" y="158.6" width="4.6" height="7.9" fill="#ef5350"/></g>
<g opacity="0.55"><rect x="428.24" y="161.5" width="1" height="16.9" fill="#26a69a" fill-opacity="0.8"/><rect x="426.44" y="165.5" width="4.6" height="1.2" fill="#26a69a"/></g>
<g><rect x="434.41" y="149.1" width="1" height="16.6" fill="#26a69a" fill-opacity="0.8"/><rect x="432.61" y="149.1" width="4.6" height="16.6" fill="#26a69a"/></g>
<g><rect x="440.57" y="149.1" width="1" height="9.8" fill="#ef5350" fill-opacity="0.8"/><rect x="438.77" y="149.1" width="4.6" height="2.7" fill="#ef5350"/></g>
<g><rect x="446.74" y="136.9" width="1" height="14.4" fill="#26a69a" fill-opacity="0.8"/><rect x="444.94" y="150.1" width="4.6" height="1.2" fill="#26a69a"/></g>
<g><rect x="452.9" y="117.7" width="1" height="37" fill="#26a69a" fill-opacity="0.8"/><rect x="451.1" y="120.7" width="4.6" height="28.9" fill="#26a69a"/></g>
<g><rect x="459.07" y="92.5" width="1" height="27.9" fill="#26a69a" fill-opacity="0.8"/><rect x="457.27" y="100" width="4.6" height="20.4" fill="#26a69a"/></g>
<g><rect x="465.24" y="80.4" width="1" height="19.2" fill="#26a69a" fill-opacity="0.8"/><rect x="463.44" y="84" width="4.6" height="15.6" fill="#26a69a"/></g>
<g><rect x="471.4" y="81.9" width="1" height="15.4" fill="#ef5350" fill-opacity="0.8"/><rect x="469.6" y="83.7" width="4.6" height="1.2" fill="#ef5350"/></g>
<g><rect x="477.57" y="72.6" width="1" height="25.1" fill="#26a69a" fill-opacity="0.8"/><rect x="475.77" y="78" width="4.6" height="6.4" fill="#26a69a"/></g>
<g><rect x="483.73" y="70.4" width="1" height="19.9" fill="#26a69a" fill-opacity="0.8"/><rect x="481.93" y="71.8" width="4.6" height="5.7" fill="#26a69a"/></g>
<g><rect x="489.9" y="65.2" width="1" height="29.1" fill="#ef5350" fill-opacity="0.8"/><rect x="488.1" y="71.5" width="4.6" height="16.9" fill="#ef5350"/></g>
<g><rect x="496.07" y="79.5" width="1" height="14.2" fill="#ef5350" fill-opacity="0.8"/><rect x="494.27" y="89.3" width="4.6" height="2.1" fill="#ef5350"/></g>
<g><rect x="502.23" y="82.2" width="1" height="13.3" fill="#26a69a" fill-opacity="0.8"/><rect x="500.43" y="82.9" width="4.6" height="8.5" fill="#26a69a"/></g>
<g><rect x="508.4" y="74.8" width="1" height="21.4" fill="#ef5350" fill-opacity="0.8"/><rect x="506.6" y="82.9" width="4.6" height="6.7" fill="#ef5350"/></g>
<g><rect x="514.56" y="68.1" width="1" height="31.9" fill="#26a69a" fill-opacity="0.8"/><rect x="512.76" y="77.5" width="4.6" height="12.1" fill="#26a69a"/></g>
<g><rect x="520.73" y="62.2" width="1" height="17.8" fill="#26a69a" fill-opacity="0.8"/><rect x="518.93" y="75.1" width="4.6" height="1.5" fill="#26a69a"/></g>
<g><rect x="526.9" y="67.7" width="1" height="18.7" fill="#ef5350" fill-opacity="0.8"/><rect x="525.1" y="75.1" width="4.6" height="8.4" fill="#ef5350"/></g>
<g><rect x="533.06" y="75.2" width="1" height="21.2" fill="#ef5350" fill-opacity="0.8"/><rect x="531.26" y="84" width="4.6" height="2.2" fill="#ef5350"/></g>
<g opacity="0.55"><rect x="539.23" y="82" width="1" height="8.5" fill="#ef5350" fill-opacity="0.8"/><rect x="537.43" y="86" width="4.6" height="1.2" fill="#ef5350"/></g>
<g opacity="0.55"><rect x="545.39" y="80.3" width="1" height="11.5" fill="#26a69a" fill-opacity="0.8"/><rect x="543.59" y="85.7" width="4.6" height="1.2" fill="#26a69a"/></g>
<g><rect x="551.56" y="86.7" width="1" height="38.4" fill="#ef5350" fill-opacity="0.8"/><rect x="549.76" y="86.7" width="4.6" height="3.8" fill="#ef5350"/></g>
<g><rect x="557.73" y="91" width="1" height="28.6" fill="#ef5350" fill-opacity="0.8"/><rect x="555.93" y="91" width="4.6" height="28.6" fill="#ef5350"/></g>
<g><rect x="563.89" y="109.4" width="1" height="19.1" fill="#26a69a" fill-opacity="0.8"/><rect x="562.09" y="115.8" width="4.6" height="3.8" fill="#26a69a"/></g>
<g><rect x="570.06" y="104.8" width="1" height="13.6" fill="#26a69a" fill-opacity="0.8"/><rect x="568.26" y="108.2" width="4.6" height="7.3" fill="#26a69a"/></g>
<g><rect x="576.22" y="103.1" width="1" height="12.4" fill="#ef5350" fill-opacity="0.8"/><rect x="574.42" y="107.9" width="4.6" height="7.6" fill="#ef5350"/></g>
<g><rect x="582.39" y="103.1" width="1" height="23.7" fill="#ef5350" fill-opacity="0.8"/><rect x="580.59" y="115.8" width="4.6" height="9" fill="#ef5350"/></g>
<g><rect x="588.56" y="113" width="1" height="21.4" fill="#26a69a" fill-opacity="0.8"/><rect x="586.76" y="113" width="4.6" height="11.8" fill="#26a69a"/></g>
<g><rect x="594.72" y="108.2" width="1" height="5.6" fill="#26a69a" fill-opacity="0.8"/><rect x="592.92" y="109.9" width="4.6" height="2.9" fill="#26a69a"/></g>
<g><rect x="600.89" y="88.4" width="1" height="21.5" fill="#26a69a" fill-opacity="0.8"/><rect x="599.09" y="92.3" width="4.6" height="17.2" fill="#26a69a"/></g>
<g><rect x="607.05" y="83.8" width="1" height="9.7" fill="#26a69a" fill-opacity="0.8"/><rect x="605.25" y="90" width="4.6" height="1.2" fill="#26a69a"/></g>
<g><rect x="613.22" y="70.6" width="1" height="19.5" fill="#26a69a" fill-opacity="0.8"/><rect x="611.42" y="72" width="4.6" height="18.1" fill="#26a69a"/></g>
<g><rect x="619.39" y="68.1" width="1" height="10.1" fill="#26a69a" fill-opacity="0.8"/><rect x="617.59" y="68.1" width="4.6" height="3.9" fill="#26a69a"/></g>
<g><rect x="625.55" y="59.6" width="1" height="14.1" fill="#26a69a" fill-opacity="0.8"/><rect x="623.75" y="63.8" width="4.6" height="3.8" fill="#26a69a"/></g>
<g><rect x="631.72" y="60.5" width="1" height="9.3" fill="#ef5350" fill-opacity="0.8"/><rect x="629.92" y="63.5" width="4.6" height="6.3" fill="#ef5350"/></g>
<g><rect x="637.88" y="64.7" width="1" height="13.5" fill="#26a69a" fill-opacity="0.8"/><rect x="636.08" y="68.9" width="4.6" height="1.2" fill="#26a69a"/></g>
<g><rect x="644.05" y="61.3" width="1" height="13.5" fill="#ef5350" fill-opacity="0.8"/><rect x="642.25" y="69.3" width="4.6" height="1.2" fill="#ef5350"/></g>
<g><rect x="650.22" y="63.8" width="1" height="18.7" fill="#ef5350" fill-opacity="0.8"/><rect x="648.42" y="69.8" width="4.6" height="7.9" fill="#ef5350"/></g>
<g><rect x="656.38" y="65.2" width="1" height="13.9" fill="#26a69a" fill-opacity="0.8"/><rect x="654.58" y="65.2" width="4.6" height="12.5" fill="#26a69a"/></g>
<g><rect x="662.55" y="61.3" width="1" height="8.5" fill="#26a69a" fill-opacity="0.8"/><rect x="660.75" y="63.5" width="4.6" height="1.2" fill="#26a69a"/></g>
<g><rect x="668.71" y="46.6" width="1" height="19" fill="#26a69a" fill-opacity="0.8"/><rect x="666.91" y="47.3" width="4.6" height="15.8" fill="#26a69a"/></g>
<g><rect x="674.88" y="40.4" width="1" height="11.8" fill="#ef5350" fill-opacity="0.8"/><rect x="673.08" y="46.8" width="4.6" height="2.9" fill="#ef5350"/></g>
<g><rect x="681.05" y="44.6" width="1" height="9.3" fill="#26a69a" fill-opacity="0.8"/><rect x="679.25" y="46.8" width="4.6" height="2.9" fill="#26a69a"/></g>
<g><rect x="687.21" y="46.3" width="1" height="11.8" fill="#ef5350" fill-opacity="0.8"/><rect x="685.41" y="46.3" width="4.6" height="8.5" fill="#ef5350"/></g>
<g><rect x="693.38" y="46.8" width="1" height="8.3" fill="#26a69a" fill-opacity="0.8"/><rect x="691.58" y="46.8" width="4.6" height="8.3" fill="#26a69a"/></g>
<g><rect x="699.54" y="38.7" width="1" height="11" fill="#ef5350" fill-opacity="0.8"/><rect x="697.74" y="46.6" width="4.6" height="3.1" fill="#ef5350"/></g>
<g><rect x="705.71" y="49.7" width="1" height="11" fill="#ef5350" fill-opacity="0.8"/><rect x="703.91" y="49.7" width="4.6" height="5.9" fill="#ef5350"/></g>
<g><rect x="711.88" y="53.1" width="1" height="12.2" fill="#ef5350" fill-opacity="0.8"/><rect x="710.08" y="55.6" width="4.6" height="9.7" fill="#ef5350"/></g>
<g><rect x="718.04" y="55.6" width="1" height="9.3" fill="#26a69a" fill-opacity="0.8"/><rect x="716.24" y="60.3" width="4.6" height="4.6" fill="#26a69a"/></g>
<g><rect x="724.21" y="50.5" width="1" height="10.2" fill="#26a69a" fill-opacity="0.8"/><rect x="722.41" y="53.1" width="4.6" height="6.7" fill="#26a69a"/></g>
<g opacity="0.55"><rect x="730.37" y="48.8" width="1" height="6" fill="#ef5350" fill-opacity="0.8"/><rect x="728.57" y="53.6" width="4.6" height="1.2" fill="#ef5350"/></g>
<g><rect x="736.54" y="53.1" width="1" height="10.1" fill="#ef5350" fill-opacity="0.8"/><rect x="734.74" y="53.4" width="4.6" height="4.5" fill="#ef5350"/></g>
<g><rect x="742.71" y="36.2" width="1" height="21.5" fill="#26a69a" fill-opacity="0.8"/><rect x="740.91" y="40.3" width="4.6" height="17.4" fill="#26a69a"/></g>
<g><rect x="748.87" y="36.2" width="1" height="38.9" fill="#ef5350" fill-opacity="0.8"/><rect x="747.07" y="40.5" width="4.6" height="13.2" fill="#ef5350"/></g>
<g><rect x="755.04" y="52" width="1" height="20.6" fill="#ef5350" fill-opacity="0.8"/><rect x="753.24" y="54" width="4.6" height="10.1" fill="#ef5350"/></g>
<g><rect x="761.2" y="54.8" width="1" height="12.7" fill="#26a69a" fill-opacity="0.8"/><rect x="759.4" y="54.8" width="4.6" height="9.3" fill="#26a69a"/></g>
<g><rect x="767.37" y="51.5" width="1" height="16" fill="#ef5350" fill-opacity="0.8"/><rect x="765.57" y="54.3" width="4.6" height="6.5" fill="#ef5350"/></g>
<g><rect x="773.54" y="59" width="1" height="22" fill="#ef5350" fill-opacity="0.8"/><rect x="771.74" y="60.8" width="4.6" height="9.9" fill="#ef5350"/></g>
<g><rect x="779.7" y="66.7" width="1" height="25.1" fill="#ef5350" fill-opacity="0.8"/><rect x="777.9" y="71.1" width="4.6" height="19.2" fill="#ef5350"/></g>
<g><rect x="785.87" y="87.4" width="1" height="31.8" fill="#ef5350" fill-opacity="0.8"/><rect x="784.07" y="90.6" width="4.6" height="15" fill="#ef5350"/></g>
<g><rect x="792.03" y="93.3" width="1" height="14.8" fill="#26a69a" fill-opacity="0.8"/><rect x="790.23" y="98.8" width="4.6" height="6.8" fill="#26a69a"/></g>
<g opacity="0.75"><rect x="798.2" y="90.3" width="1" height="21.8" fill="#26a69a" fill-opacity="0.8"/><rect x="796.4" y="98" width="4.6" height="1.2" fill="#26a69a"/></g>
<g><rect x="804.37" y="90.3" width="1" height="13.3" fill="#ef5350" fill-opacity="0.8"/><rect x="802.57" y="98.8" width="4.6" height="4.1" fill="#ef5350"/></g>
<g opacity="0.55"><rect x="810.53" y="98.8" width="1" height="11.5" fill="#26a69a" fill-opacity="0.8"/><rect x="808.73" y="102" width="4.6" height="1.2" fill="#26a69a"/></g>
<g><rect x="816.7" y="98.5" width="1" height="8.1" fill="#ef5350" fill-opacity="0.8"/><rect x="814.9" y="102.2" width="4.6" height="1.4" fill="#ef5350"/></g>
<g><rect x="822.86" y="96.2" width="1" height="8.9" fill="#26a69a" fill-opacity="0.8"/><rect x="821.06" y="96.2" width="4.6" height="7" fill="#26a69a"/></g>
<g><rect x="829.03" y="89.6" width="1" height="10.4" fill="#ef5350" fill-opacity="0.8"/><rect x="827.23" y="95.8" width="4.6" height="1.2" fill="#ef5350"/></g>
<g><rect x="835.2" y="86.6" width="1" height="12.2" fill="#26a69a" fill-opacity="0.8"/><rect x="833.4" y="89.3" width="4.6" height="7.4" fill="#26a69a"/></g>
<line x1="7" y1="88.5" x2="929" y2="88.5" stroke="#26a69a" stroke-opacity="0.4" stroke-width="1" stroke-dasharray="1,2"/>
</g>
<line x1="7" y1="362.5" x2="1017" y2="362.5" stroke="#e6e8ee" stroke-width="1"/>
<g clip-path="url(#cr)">
<rect x="7" y="378.4" width="959" height="29" fill="#7e57c2" fill-opacity="0.1"/>
<polygon fill="url(#gg)" points="119.96,378.4 120.3,378 128.1,376.9 134.4,375.3 143.8,374.4 150,372.2 157.8,369.1 163.3,375.6 169.5,374.4 175.8,376.4 182.8,375.2 186.47,378.4 186.47,378.4 119.96,378.4"/>
<polygon fill="url(#gg)" points="206.29,378.4 212.5,374.1 218.8,371.3 225,372.2 231.3,366.6 237.5,365.5 243.8,366.6 250,368.6 256.3,367.3 262.5,371.3 268.8,376.4 275,378 276.1,378.4 276.1,378.4 206.29,378.4"/>
<polygon fill="url(#gg)" points="455.63,378.4 461.3,374.8 466.3,373.3 472.5,374.4 478.8,372.8 484.2,372.2 489.02,378.4 489.02,378.4 455.63,378.4"/>
<line x1="7" y1="378.5" x2="966" y2="378.5" stroke="#838793" stroke-width="1" stroke-dasharray="3,3.2"/>
<line x1="7" y1="393.5" x2="966" y2="393.5" stroke="#c9cbd2" stroke-width="1" stroke-dasharray="3,3.2"/>
<line x1="7" y1="407.5" x2="966" y2="407.5" stroke="#838793" stroke-width="1" stroke-dasharray="3,3.2"/>
<path fill="none" stroke="#f9df55" stroke-width="1" d="M7,385 C13.65,385.47 35.07,387.02 46.9,387.8 C58.73,388.58 67.58,389.12 78,389.7 C88.42,390.28 101.57,391.17 109.4,391.3 C117.23,391.43 119.8,391.17 125,390.5 C130.2,389.83 136.43,388.17 140.6,387.3 C144.77,386.43 145.83,386.47 150,385.3 C154.17,384.13 160.38,381.45 165.6,380.3 C170.82,379.15 176.08,378.97 181.3,378.4 C186.52,377.83 191.7,377.37 196.9,376.9 C202.1,376.43 207.3,375.95 212.5,375.6 C217.7,375.25 222.88,375.1 228.1,374.8 C233.32,374.5 238.58,374.18 243.8,373.8 C249.02,373.42 254.2,372.77 259.4,372.5 C264.6,372.23 269.8,372.2 275,372.2 C280.2,372.2 285.6,372.23 290.6,372.5 C295.6,372.77 300,373.15 305,373.8 C310,374.45 315.38,375.32 320.6,376.4 C325.82,377.48 331.08,379.13 336.3,380.3 C341.52,381.47 346.7,382.57 351.9,383.4 C357.1,384.23 362.3,384.57 367.5,385.3 C372.7,386.03 377.88,386.93 383.1,387.8 C388.32,388.67 393.58,389.87 398.8,390.5 C404.02,391.13 409.2,391.47 414.4,391.6 C419.6,391.73 424.8,391.35 430,391.3 C435.2,391.25 439.77,391.88 445.6,391.3 C451.43,390.72 460,388.85 465,387.8 C470,386.75 471.22,386.03 475.6,385 C479.98,383.97 486.08,382.38 491.3,381.6 C496.52,380.82 501.7,380.72 506.9,380.3 C512.1,379.88 517.3,379.3 522.5,379.1 C527.7,378.9 532.88,378.77 538.1,379.1 C543.32,379.43 548.58,380.12 553.8,381.1 C559.02,382.08 564.2,383.83 569.4,385 C574.6,386.17 579.8,387.27 585,388.1 C590.2,388.93 594.77,389.6 600.6,390 C606.43,390.4 615,390.6 620,390.5 C625,390.4 626.22,389.85 630.6,389.4 C634.98,388.95 641.08,388.4 646.3,387.8 C651.52,387.2 656.7,386.53 661.9,385.8 C667.1,385.07 672.3,384.05 677.5,383.4 C682.7,382.75 687.88,381.95 693.1,381.9 C698.32,381.85 703.58,382.78 708.8,383.1 C714.02,383.42 719.2,383.62 724.4,383.8 C729.6,383.98 734.8,383.87 740,384.2 C745.2,384.53 750.6,385.28 755.6,385.8 C760.6,386.32 765,386.52 770,387.3 C775,388.08 780.38,389.53 785.6,390.5 C790.82,391.47 796.08,392.2 801.3,393.1 C806.52,394 811.18,395.03 816.9,395.9 C822.62,396.77 832.48,397.9 835.6,398.3"/>
<polyline fill="none" stroke="#8060c8" stroke-width="1" stroke-linejoin="round" points="7,386.6 10.2,383.4 15.6,383.4 21.9,385 34.4,385 40.6,387.3 46.9,388.1 53.1,387.3 59.4,395.9 68.8,396.3 76.6,397 84.4,394.4 90.6,395.6 95.3,390.5 103.1,390.5 107.8,392.5 120.3,378 128.1,376.9 134.4,375.3 143.8,374.4 150,372.2 157.8,369.1 163.3,375.6 169.5,374.4 175.8,376.4 182.8,375.2 188.3,380 194.5,380.8 204.7,379.5 212.5,374.1 218.8,371.3 225,372.2 231.3,366.6 237.5,365.5 243.8,366.6 250,368.6 256.3,367.3 262.5,371.3 268.8,376.4 275,378 281.3,380.3 287.5,380 293.8,383.8 300,379.5 305,378.4 311.3,379.5 317.5,378.4 330,387.3 336.3,388.4 342.5,395.9 355,385 361.3,385 366.7,394.4 379.2,394.4 385.5,389.4 391.7,395.2 398,397.2 405,392.8 409.7,390 415.9,388.4 422.2,391.3 428.4,391.3 434.7,386.3 439.4,387.3 447.2,387.3 455,378.8 461.3,374.8 466.3,373.3 472.5,374.4 478.8,372.8 484.2,372.2 490.5,380.3 496.7,381.9 503,380 509.2,383.4 515.5,379.5 520.9,379.5 527.2,384.2 533.4,385 545.9,385.3 552.2,387.3 558.4,396.7 564.7,395.6 570.9,393.1 577.2,395.6 582.7,397.8 588.9,394.1 594.4,393.1 601.4,387.3 607.7,387.3 613.9,382.2 619.7,381.1 625.9,380 632.2,383.4 638.4,383.4 644.7,383.4 650.9,387.8 657.2,383.4 662.7,383.1 668.9,378.4 675.2,380 680.6,379.1 686.9,383.8 693.1,381.6 699.4,383.4 705.6,386.6 711.9,390.5 718.1,388.9 724.4,386.6 730.6,386.3 736.9,388.9 743.1,383.1 749.4,388.4 755.6,393.1 761.9,389.7 768.1,392.5 774.7,396.3 779.4,400.3 785.6,403.4 791.9,400.9 798.1,400.9 804.4,401.9 810.6,401.4 816.9,402.2 823.1,399.1 829.4,398.8 835.6,396.3"/>
</g>
<line x1="7" y1="411.5" x2="1017" y2="411.5" stroke="#9598a1" stroke-width="1"/>
<line x1="966.5" y1="18" x2="966.5" y2="430" stroke="#8c8f98" stroke-width="1"/>
<text x="973.1" y="63.9" font-size="8.2" fill="#3b3f4a" textLength="37.5" lengthAdjust="spacingAndGlyphs">110,000.00</text>
<text x="973.1" y="128.29" font-size="8.2" fill="#3b3f4a" textLength="33.8" lengthAdjust="spacingAndGlyphs">78,000.00</text>
<text x="973.1" y="148.56" font-size="8.2" fill="#3b3f4a" textLength="33.8" lengthAdjust="spacingAndGlyphs">70,000.00</text>
<text x="973.1" y="171.29" font-size="8.2" fill="#3b3f4a" textLength="33.8" lengthAdjust="spacingAndGlyphs">62,000.00</text>
<text x="973.1" y="195.44" font-size="8.2" fill="#3b3f4a" textLength="33.8" lengthAdjust="spacingAndGlyphs">54,500.00</text>
<text x="973.1" y="217.28" font-size="8.2" fill="#3b3f4a" textLength="33.8" lengthAdjust="spacingAndGlyphs">48,500.00</text>
<text x="973.1" y="242.02" font-size="8.2" fill="#3b3f4a" textLength="33.8" lengthAdjust="spacingAndGlyphs">42,500.00</text>
<text x="973.1" y="270.52" font-size="8.2" fill="#3b3f4a" textLength="33.8" lengthAdjust="spacingAndGlyphs">36,500.00</text>
<text x="973.1" y="292.26" font-size="8.2" fill="#3b3f4a" textLength="33.8" lengthAdjust="spacingAndGlyphs">32,500.00</text>
<text x="973.1" y="316.86" font-size="8.2" fill="#3b3f4a" textLength="33.8" lengthAdjust="spacingAndGlyphs">28,500.00</text>
<text x="973.1" y="339.17" font-size="8.2" fill="#3b3f4a" textLength="33.8" lengthAdjust="spacingAndGlyphs">25,300.00</text>
<text x="973.1" y="359.48" font-size="8.2" fill="#3b3f4a" textLength="33.8" lengthAdjust="spacingAndGlyphs">22,700.00</text>
<text x="973.1" y="374.4" font-size="8.2" fill="#3b3f4a" textLength="19" lengthAdjust="spacingAndGlyphs">80.00</text>
<text x="973.1" y="403.4" font-size="8.2" fill="#3b3f4a" textLength="19" lengthAdjust="spacingAndGlyphs">40.00</text>
<rect x="969.5" y="21.5" width="45" height="17.5" rx="3" fill="#fff" stroke="#f0f1f4"/>
<text x="976" y="33.2" font-size="8.8" fill="#2a2e39" textLength="19.2" lengthAdjust="spacingAndGlyphs">USDT</text>
<rect x="929.3" y="83.6" width="38" height="10.7" rx="1.5" fill="#26a69a"/>
<rect x="966" y="83.6" width="43.8" height="19.8" rx="1.5" fill="#26a69a"/>
<text x="932.2" y="91.5" font-size="7.9" fill="#fff" textLength="30.9" lengthAdjust="spacingAndGlyphs">BTCUSDT</text>
<text x="972.8" y="91.4" font-size="8.1" fill="#fff" textLength="34" lengthAdjust="spacingAndGlyphs">95,078.00</text>
<text x="972.8" y="100" font-size="8.1" fill="#fff" textLength="22.3" lengthAdjust="spacingAndGlyphs">4d 12h</text>
<line x1="966.5" y1="83" x2="966.5" y2="104" stroke="#8c8f98" stroke-width="1"/>
<text x="21.78" y="423.8" font-size="7.5" fill="#5d606b" text-anchor="middle">Jul</text>
<text x="77.28" y="423.8" font-size="7.5" fill="#5d606b" text-anchor="middle">Sep</text>
<text x="132.77" y="423.8" font-size="7.5" fill="#5d606b" text-anchor="middle">Nov</text>
<text x="182.1" y="423.8" font-size="7.5" fill="#4a4d57" textLength="17.4" lengthAdjust="spacingAndGlyphs" font-weight="bold" text-anchor="middle">2024</text>
<text x="237.59" y="423.8" font-size="7.5" fill="#5d606b" text-anchor="middle">Mar</text>
<text x="293.09" y="423.8" font-size="7.5" fill="#5d606b" text-anchor="middle">May</text>
<text x="342.42" y="423.8" font-size="7.5" fill="#5d606b" text-anchor="middle">Jul</text>
<text x="397.91" y="423.8" font-size="7.5" fill="#5d606b" text-anchor="middle">Sep</text>
<text x="453.4" y="423.8" font-size="7.5" fill="#5d606b" text-anchor="middle">Nov</text>
<text x="508.9" y="423.8" font-size="7.5" fill="#4a4d57" textLength="17.4" lengthAdjust="spacingAndGlyphs" font-weight="bold" text-anchor="middle">2025</text>
<text x="558.23" y="423.8" font-size="7.5" fill="#5d606b" text-anchor="middle">Mar</text>
<text x="613.72" y="423.8" font-size="7.5" fill="#5d606b" text-anchor="middle">May</text>
<text x="669.21" y="423.8" font-size="7.5" fill="#5d606b" text-anchor="middle">Jul</text>
<text x="718.54" y="423.8" font-size="7.5" fill="#5d606b" text-anchor="middle">Sep</text>
<text x="774.04" y="423.8" font-size="7.5" fill="#5d606b" text-anchor="middle">Nov</text>
<text x="829.53" y="423.8" font-size="7.5" fill="#4a4d57" textLength="17.4" lengthAdjust="spacingAndGlyphs" font-weight="bold" text-anchor="middle">2026</text>
<text x="878.86" y="423.8" font-size="7.5" fill="#5d606b" text-anchor="middle">Mar</text>
<text x="934.35" y="423.8" font-size="7.5" fill="#5d606b" text-anchor="middle">May</text>
<text x="12.7" y="32.8" font-size="8.5" fill="#4a4d57" textLength="127.4" lengthAdjust="spacingAndGlyphs">Bitcoin / TetherUS · 1W · Binance</text>
<text x="145.6" y="32.8" font-size="8.5" textLength="42.7" lengthAdjust="spacingAndGlyphs"><tspan fill="#4a4d57">O</tspan><tspan fill="#9598a1">91,013.66</tspan></text>
<text x="194.4" y="32.8" font-size="8.5" textLength="43.1" lengthAdjust="spacingAndGlyphs"><tspan fill="#4a4d57">H</tspan><tspan fill="#9598a1">96,495.00</tspan></text>
<text x="242.8" y="32.8" font-size="8.5" textLength="41.7" lengthAdjust="spacingAndGlyphs"><tspan fill="#4a4d57">L</tspan><tspan fill="#9598a1">90,128.44</tspan></text>
<text x="289.6" y="32.8" font-size="8.5" textLength="42.4" lengthAdjust="spacingAndGlyphs"><tspan fill="#4a4d57">C</tspan><tspan fill="#9598a1">95,078.00</tspan></text>
<text x="337.4" y="32.8" font-size="8.5" fill="#9598a1" textLength="72.4" lengthAdjust="spacingAndGlyphs">+4,064.35 (+4.47%)</text>
<text x="12.7" y="45" font-size="8.5" fill="#4a4d57" textLength="34.1" lengthAdjust="spacingAndGlyphs">Vol · BTC</text>
<text x="51.7" y="45" font-size="8.5" fill="#26a69a" textLength="27.9" lengthAdjust="spacingAndGlyphs">46.46 K</text>
<text x="12.7" y="56.3" font-size="8.5" fill="#4a4d57" textLength="75.9" lengthAdjust="spacingAndGlyphs">EMA 20/50/100/200</text>
<text x="93.7" y="56.3" font-size="8.5" fill="#ff2a2a" textLength="37.6" lengthAdjust="spacingAndGlyphs" stroke="#ff2a2a" stroke-width="0.25">98,062.89</text>
<text x="136.4" y="56.3" font-size="8.5" fill="#ff9800" textLength="37.5" lengthAdjust="spacingAndGlyphs" stroke="#ff9800" stroke-width="0.25">97,555.93</text>
<text x="179.5" y="56.3" font-size="8.5" fill="#28e6f5" textLength="37.5" lengthAdjust="spacingAndGlyphs" stroke="#28e6f5" stroke-width="0.25">86,217.55</text>
<text x="222" y="56.3" font-size="8.5" fill="#3535f0" textLength="37.5" lengthAdjust="spacingAndGlyphs" stroke="#3535f0" stroke-width="0.25">67,773.28</text>
<text x="12.6" y="377" font-size="8.5" fill="#4a4d57" textLength="53.2" lengthAdjust="spacingAndGlyphs">RSI (14, close)</text>
<text x="71.6" y="377" font-size="8.5" fill="#7e57c2" textLength="21" lengthAdjust="spacingAndGlyphs">45.70</text>
<text x="97.6" y="377" font-size="8.5" fill="#f5d54a" textLength="20.9" lengthAdjust="spacingAndGlyphs">42.68</text>
<text x="124.6" y="377" font-size="8.5" fill="#4a4d57">∅</text>
<text x="137.2" y="377" font-size="8.5" fill="#4a4d57">∅</text>
<text x="7" y="13.7" font-size="8.5" fill="#2a2e39" textLength="276" lengthAdjust="spacingAndGlyphs" stroke="#2a2e39" stroke-width="0.15">Jake_Simmons created with TradingView.com, Jan 14, 2026 07:28 UTC-5</text>
<g transform="translate(8.2,443.9) scale(0.58)" fill="#131722"><path d="M14 22H7V11H0V4h14v18zM28 22h-8l7.5-18h8L28 22z"/><circle cx="20" cy="8" r="4"/></g>
<text x="34" y="456.6" font-size="14.6" fill="#131313" textLength="85.3" lengthAdjust="spacingAndGlyphs" stroke="#131313" stroke-width="0.55">TradingView</text>
</svg></body></html>
